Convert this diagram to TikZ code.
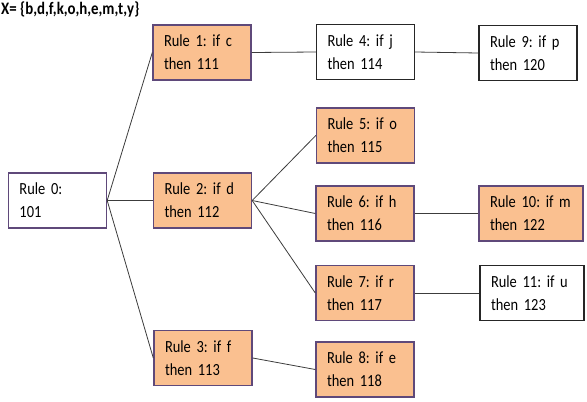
\documentclass[tikz,border=0pt]{standalone}
\usepackage{fontspec}
\setmainfont{Carlito}[FakeStretch=0.85]
\usetikzlibrary{positioning}
\definecolor{rpeach}{HTML}{FAC090}
\definecolor{rplum}{HTML}{5F497A}
\definecolor{rlink}{HTML}{3C3C3C}
\frenchspacing

\begin{document}
\begin{tikzpicture}[
  x=1pt,y=-1pt,
  font=\fontsize{17}{23}\selectfont,
  rule/.style={draw=rplum,line width=1.4pt,fill=rpeach,minimum width=98pt,
               minimum height=55pt,text width=76pt,align=left,inner xsep=11pt},
  plain/.style={rule,fill=white,draw=black!85},
  wide/.style={minimum width=104pt,text width=82pt},
  link/.style={draw=rlink,line width=0.8pt}
]
\useasboundingbox (0,0) rectangle (587,402);

\node[anchor=north west,inner sep=0pt,font=\fontsize{17.5}{18}\selectfont\bfseries]
  (set) at (1,1.5) {X= \{b,d,f,k,o,h,e,m,t,y\}};

\node[rule,fill=white] (r0) at (57.5,200.5) {Rule 0:\\101};
\node[rule] (r1) at (202,52.5) {Rule 1: if c\\then 111};
\node[rule] (r2) at (202.5,200.5) {Rule 2: if d\\then 112};
\node[rule] (r3) at (203,358) {Rule 3: if f\\then 113};

\node[plain] (r4) at (365.5,52) {Rule 4: if j\\then 114};
\node[rule] (r5) at (365.5,135.5) {Rule 5: if o\\then 115};
\node[rule] (r6) at (365,213.5) {Rule 6: if h\\then 116};
\node[rule] (r7) at (365,293) {Rule 7: if r\\then 117};
\node[rule] (r8) at (365,369.5) {Rule 8: if e\\then 118};

\node[plain] (r9) at (528,53) {Rule 9: if p\\then 120};
\node[rule,wide] (r10) at (531,213.5) {Rule 10: if m\\then 122};
\node[plain,wide] (r11) at (532,293) {Rule 11: if u\\then 123};

% tree links
\foreach \a/\b in {r0/r1, r0/r2, r0/r3, r1/r4, r4/r9, r2/r5, r2/r6, r2/r7,
                   r3/r8, r6/r10, r7/r11}
  {\draw[link] (\a.east) -- (\b.west);}
\end{tikzpicture}
\end{document}
